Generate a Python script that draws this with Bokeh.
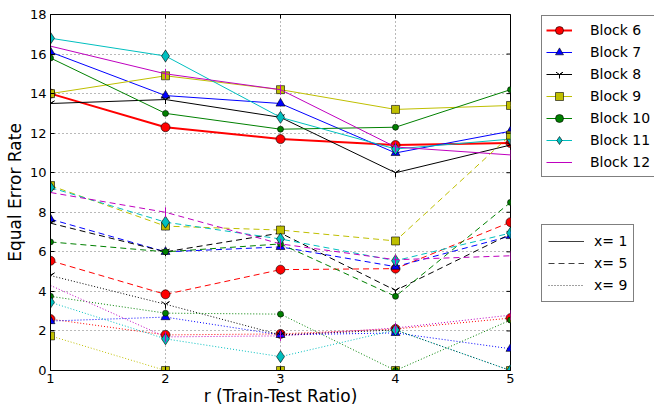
from bokeh.plotting import figure
from bokeh.models import Legend, LegendItem, FixedTicker
from bokeh.layouts import row
from bokeh.embed import file_html
from bokeh.resources import INLINE
import math

r_vals = [1, 2, 3, 4, 5]
y_ticks = [0, 2, 4, 6, 8, 10, 12, 14, 16, 18]

block_names = ["Block 6", "Block 7", "Block 8", "Block 9", "Block 10", "Block 11", "Block 12"]

# x = 1 (solid)
b6_x1 = [14.0, 12.3, 11.7, 11.4, 11.5]
b7_x1 = [16.1, 13.9, 13.5, 11.0, 12.1]
b8_x1 = [13.5, 13.7, 12.8, 10.0, 11.4]
b9_x1 = [14.0, 14.9, 14.2, 13.2, 13.4]
b10_x1 = [15.8, 13.0, 12.2, 12.3, 14.2]
b11_x1 = [16.8, 15.9, 12.8, 11.2, 11.7]
b12_x1 = [16.4, 15.0, 14.2, 11.3, 10.9]

# x = 5 (dashed)
b6_x5 = [5.55, 3.85, 5.1, 5.15, 7.5]
b7_x5 = [7.65, 6.0, 6.25, 5.25, 6.8]
b8_x5 = [7.45, 6.0, 6.95, 4.05, 6.9]
b9_x5 = [9.35, 7.3, 7.1, 6.55, 11.9]
b10_x5 = [6.5, 6.0, 6.4, 3.75, 8.5]
b11_x5 = [9.25, 7.5, 6.65, 5.55, 6.95]
b12_x5 = [9.0, 8.0, 6.4, 5.6, 5.8]

# x = 9 (dotted)
b6_x9 = [2.6, 1.8, 1.85, 2.1, 2.65]
b7_x9 = [2.5, 2.7, 1.8, 1.9, 1.1]
b8_x9 = [4.8, 3.35, 1.8, 2.05, 0.0]
b9_x9 = [1.75, 0.0, 0.0, 0.0, 0.0]
b10_x9 = [3.75, 2.9, 2.85, 0.0, 2.55]
b11_x9 = [3.45, 1.6, 0.7, 2.05, 0.0]
b12_x9 = [4.3, 1.7, 1.75, 2.15, 2.8]

series_x1 = [b6_x1, b7_x1, b8_x1, b9_x1, b10_x1, b11_x1, b12_x1]
series_x5 = [b6_x5, b7_x5, b8_x5, b9_x5, b10_x5, b11_x5, b12_x5]
series_x9 = [b6_x9, b7_x9, b8_x9, b9_x9, b10_x9, b11_x9, b12_x9]
x_labels = ["x= 1", "x= 5", "x= 9"]

colors = ["#ff0000", "#0000ff", "#000000", "#bfbf00", "#008000", "#00bfbf", "#bf00bf"]
markers = ["circle", "triangle", "y", "square", "circle", "diamond", "dash"]
sizes = [9, 9, 9, 8, 6, 12, 10]
angles = [0, 0, 0, 0, 0, 0, math.pi / 2]
dashes = ["solid", "6 4", "1 2"]

FONT = "DejaVu Sans"


def draw_series(fig, i, xs, ys, dash, lw):
    ln = fig.line(xs, ys, line_color=colors[i], line_width=lw, line_dash=dash)
    if markers[i] in ("y", "dash"):
        sc = fig.scatter(xs, ys, marker=markers[i], size=sizes[i], angle=angles[i],
                         line_color=colors[i], line_width=1)
    else:
        sc = fig.scatter(xs, ys, marker=markers[i], size=sizes[i],
                         fill_color=colors[i], line_color="black", line_width=0.6)
    return ln, sc


p = figure(width=530, height=408, output_backend="svg", toolbar_location=None,
           x_range=(1, 5), y_range=(0, 18),
           min_border_left=50, min_border_right=20, min_border_top=14, min_border_bottom=38)

p.xaxis.ticker = FixedTicker(ticks=r_vals)
p.yaxis.ticker = FixedTicker(ticks=y_ticks)
for ax in [p.xaxis[0], p.yaxis[0]]:
    ax.major_tick_in = 4
    ax.major_tick_out = 0
    ax.minor_tick_line_color = None
    ax.axis_line_color = "black"
    ax.major_tick_line_color = "black"
    ax.major_label_text_font = FONT
    ax.major_label_text_font_size = "13px"
    ax.major_label_text_color = "black"
    ax.axis_label_text_font = FONT
    ax.axis_label_text_font_size = "17px"
    ax.axis_label_text_font_style = "normal"
    ax.axis_label_text_color = "black"
p.xaxis.axis_label = "r (Train-Test Ratio)"
p.yaxis.axis_label = "Equal Error Rate"
p.xaxis.major_label_standoff = 3
p.yaxis.major_label_standoff = 4
p.xaxis.axis_label_standoff = 0
p.yaxis.axis_label_standoff = 2

p.grid.grid_line_color = "black"
p.grid.grid_line_alpha = 0.55
p.grid.grid_line_dash = "1 3"
p.outline_line_color = "black"
p.outline_line_alpha = 1
p.background_fill_color = "white"

for ds_idx, series in enumerate([series_x1, series_x5, series_x9]):
    for i, ys in enumerate(series):
        lw = 2 if (i == 0 and ds_idx == 0) else 1
        draw_series(p, i, r_vals, ys, dashes[ds_idx], lw)

# mirrored inward tick marks on the right and top edges (half of each dash is clipped by the frame)
p.scatter([r_vals[-1]] * len(y_ticks), y_ticks, marker="dash", size=8, line_color="black", line_width=1)
p.scatter(r_vals, [y_ticks[-1]] * len(r_vals), marker="dash", angle=math.pi / 2, size=8,
          line_color="black", line_width=1)

# legend panel (its frame is aligned with the main plot's frame: top 14, bottom 370)
q = figure(width=124, height=408, output_backend="svg", toolbar_location=None,
           x_range=(0, 1), y_range=(0, 1), min_border=0,
           x_axis_location=None, y_axis_location=None)
q.grid.visible = False
q.outline_line_color = None

off_x = [-10, -9]
off_y = [-10, -9]
solid_items = []
for i in range(7):
    ln, sc = draw_series(q, i, off_x, off_y, "solid", 2 if i == 0 else 1)
    solid_items.append(LegendItem(label=block_names[i], renderers=[ln, sc]))

style_items = []
for k in range(3):
    dl = q.line(off_x, off_y, line_color="black", line_alpha=0.75, line_width=1, line_dash=dashes[k])
    style_items.append(LegendItem(label=x_labels[k], renderers=[dl]))

common = dict(label_text_font=FONT, label_text_font_size="14px", label_text_color="black",
              glyph_height=20, label_height=20, spacing=2,
              margin=0, border_line_color="black", border_line_width=1,
              background_fill_color="white", background_fill_alpha=1)

leg1 = Legend(items=solid_items, location=(11, 193), glyph_width=26, label_standoff=18,
              padding=4, **common)
leg2 = Legend(items=style_items, location=(11, 68), glyph_width=36, label_standoff=10,
              padding=6, **common)
q.add_layout(leg1)
q.add_layout(leg2)

layout = row(p, q)
open("out.html", "w").write(file_html(layout, INLINE))
